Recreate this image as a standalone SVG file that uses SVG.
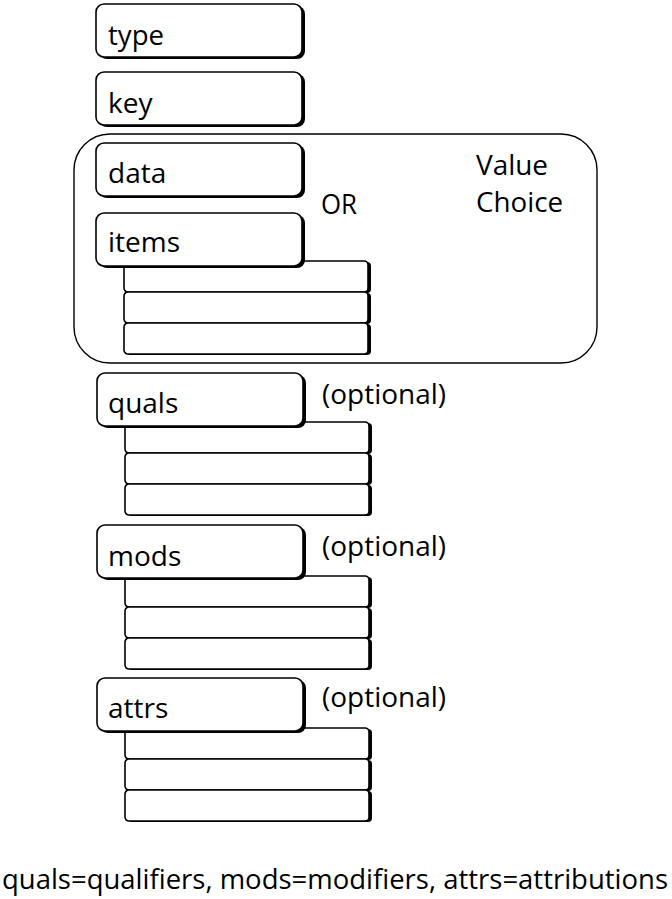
<svg xmlns="http://www.w3.org/2000/svg" width="672" height="899" viewBox="0 0 672 899">
<defs>
<style>
.sh{fill:#000}
.bx{fill:#fff;stroke:#000;stroke-width:1.6}
.lbl{font-family:"Open Sans","Liberation Sans",sans-serif;font-size:28px;fill:#000}
.note{font-family:"Open Sans","Liberation Sans",sans-serif;font-size:27px;fill:#000}
.grp{fill:none;stroke:#000;stroke-width:1.4}
</style>
<g id="field">
<rect class="sh" x="3" y="2" width="206" height="53" rx="8"/>
<rect class="bx" x="0" y="0" width="206" height="53" rx="8"/>
</g>
<g id="row">
<rect class="sh" x="3" y="1" width="244" height="31" rx="4"/>
<rect class="bx" x="0" y="0" width="244" height="31" rx="4"/>
</g>
</defs>
<rect width="672" height="899" fill="#fff"/>

<g id="valuechoice">
<rect class="grp" x="74" y="134" width="523" height="229" rx="36"/>
<text class="note" x="476" y="175" textLength="72" lengthAdjust="spacingAndGlyphs">Value</text>
<text class="note" x="476" y="212" textLength="87" lengthAdjust="spacingAndGlyphs">Choice</text>
<text class="note" x="321" y="214" textLength="36" lengthAdjust="spacingAndGlyphs">OR</text>
</g>

<g id="type">
<use href="#field" x="96" y="4"/>
<text class="lbl" x="108" y="45" textLength="56" lengthAdjust="spacingAndGlyphs">type</text>
</g>
<g id="key">
<use href="#field" x="96" y="72"/>
<text class="lbl" x="108" y="113">key</text>
</g>
<g id="data">
<use href="#field" x="96" y="143"/>
<text class="lbl" x="108" y="183">data</text>
</g>
<g id="items">
<use href="#row" x="124" y="261"/>
<use href="#row" x="124" y="292"/>
<use href="#row" x="124" y="323"/>
<use href="#field" x="96" y="213"/>
<text class="lbl" x="108" y="252" textLength="72" lengthAdjust="spacingAndGlyphs">items</text>
</g>
<g id="quals">
<use href="#row" x="125" y="422"/>
<use href="#row" x="125" y="453"/>
<use href="#row" x="125" y="484"/>
<use href="#field" x="97" y="373"/>
<text class="lbl" x="108" y="413">quals</text>
<text class="note" x="322" y="404" textLength="124" lengthAdjust="spacingAndGlyphs">(optional)</text>
</g>
<g id="mods">
<use href="#row" x="125" y="576"/>
<use href="#row" x="125" y="607"/>
<use href="#row" x="125" y="638"/>
<use href="#field" x="97" y="525"/>
<text class="lbl" x="108" y="566">mods</text>
<text class="note" x="322" y="556" textLength="124" lengthAdjust="spacingAndGlyphs">(optional)</text>
</g>
<g id="attrs">
<use href="#row" x="125" y="728"/>
<use href="#row" x="125" y="759"/>
<use href="#row" x="125" y="790"/>
<use href="#field" x="97" y="678"/>
<text class="lbl" x="108" y="718">attrs</text>
<text class="note" x="322" y="707" textLength="124" lengthAdjust="spacingAndGlyphs">(optional)</text>
</g>
<g id="connectors"></g>
<text class="note" x="2" y="889" textLength="666" lengthAdjust="spacingAndGlyphs">quals=qualifiers, mods=modifiers, attrs=attributions</text>
</svg>
